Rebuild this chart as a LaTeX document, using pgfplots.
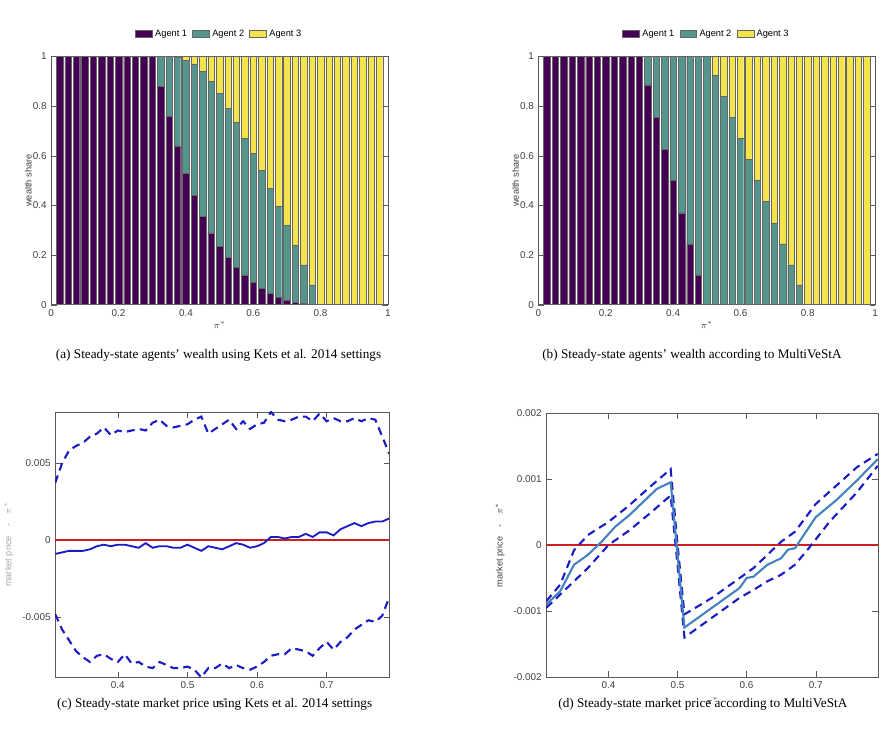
\documentclass[border=0pt]{standalone}
\usepackage{pgfplots}
\pgfplotsset{compat=1.18}
\usepackage{pgfplotstable}
\usepackage{fontspec}
\setmainfont{Liberation Serif}
\setsansfont{Liberation Sans}
\definecolor{ag1}{HTML}{440154}
\definecolor{ag2}{HTML}{55968C}
\definecolor{ag3}{HTML}{F3E34C}
\definecolor{mblue}{HTML}{1C1CC4}
\definecolor{sblue}{HTML}{4682BE}
\definecolor{mred}{HTML}{CC2020}
\pgfplotstableread{
x a1 a2 a3
0.025 1 0 0
0.05 1 0 0
0.075 1 0 0
0.1 1 0 0
0.125 1 0 0
0.15 1 0 0
0.175 1 0 0
0.2 1 0 0
0.225 1 0 0
0.25 1 0 0
0.275 1 0 0
0.3 1 0 0
0.325 .88 .12 0
0.35 .76 .24 0
0.375 .64 .355 .005
0.4 .53 .455 .015
0.425 .44 .53 .03
0.45 .355 .585 .06
0.475 .29 .61 .10
0.5 .235 .615 .15
0.525 .19 .60 .21
0.55 .15 .585 .265
0.575 .12 .55 .33
0.6 .09 .52 .39
0.625 .065 .475 .46
0.65 .045 .425 .53
0.675 .03 .365 .605
0.7 .02 .30 .68
0.725 .01 .23 .76
0.75 .005 .155 .84
0.775 0 .08 .92
0.8 0 0 1
0.825 0 0 1
0.85 0 0 1
0.875 0 0 1
0.9 0 0 1
0.925 0 0 1
0.95 0 0 1
0.975 0 0 1
}\tabA
\pgfplotstableread{
x a1 a2 a3
0.025 1 0 0
0.05 1 0 0
0.075 1 0 0
0.1 1 0 0
0.125 1 0 0
0.15 1 0 0
0.175 1 0 0
0.2 1 0 0
0.225 1 0 0
0.25 1 0 0
0.275 1 0 0
0.3 1 0 0
0.325 .885 .115 0
0.35 .755 .245 0
0.375 .625 .375 0
0.4 .5 .5 0
0.425 .37 .63 0
0.45 .245 .755 0
0.475 .12 .88 0
0.5 0 1 0
0.525 0 .925 .075
0.55 0 .84 .16
0.575 0 .755 .245
0.6 0 .67 .33
0.625 0 .585 .415
0.65 0 .5 .5
0.675 0 .415 .585
0.7 0 .33 .67
0.725 0 .245 .755
0.75 0 .16 .84
0.775 0 .08 .92
0.8 0 0 1
0.825 0 0 1
0.85 0 0 1
0.875 0 0 1
0.9 0 0 1
0.925 0 0 1
0.95 0 0 1
0.975 0 0 1
}\tabB
\pgfplotsset{
  base/.style={scale only axis, axis line style={gray!70!black}, tick style={gray!70!black},
    tick align=inside, ticklabel style={font=\sffamily\fontsize{7.5}{9}\selectfont, text=black!75},
    /pgf/number format/assume math mode=true,
    label style={font=\sffamily\fontsize{7}{8}\selectfont, text=black!75},
    x tick label style={/pgf/number format/fixed}, y tick label style={/pgf/number format/fixed}},
  barax/.style={base, ybar stacked, bar width=4.9pt, xmin=0, xmax=1, ymin=0, ymax=1,
    xtick={0,0.2,...,1}, ytick={0,0.2,...,1}, ylabel={wealth share}, xlabel={$\pi^*$},
    xlabel style={yshift=3pt}, ylabel style={yshift=-6pt},
    legend style={at={(0.5,1.05)}, anchor=south, draw=none, legend columns=3,
      font=\sffamily\fontsize{7}{8}\selectfont, /tikz/every even column/.append style={column sep=2pt}},
    legend image code/.code={\draw[#1, draw=black!60] (0cm,-0.09cm) rectangle (0.45cm,0.11cm);},
    every axis plot/.append style={draw=gray!80!black, line width=0.3pt}},
}
\begin{document}
\begin{tikzpicture}
\path (0pt,0pt) rectangle (667.5pt,-568.5pt);
% (a)
\begin{axis}[barax, at={(32.25pt,-42.75pt)}, anchor=north west, width=255pt, height=188pt]
\addplot[fill=ag1] table[x=x,y=a1]{\tabA}; \addlegendentry{Agent 1}
\addplot[fill=ag2] table[x=x,y=a2]{\tabA}; \addlegendentry{Agent 2}
\addplot[fill=ag3] table[x=x,y=a3]{\tabA}; \addlegendentry{Agent 3}
\end{axis}
% (b)
\begin{axis}[barax, at={(401.25pt,-42.75pt)}, anchor=north west, width=255pt, height=188pt]
\addplot[fill=ag1] table[x=x,y=a1]{\tabB}; \addlegendentry{Agent 1}
\addplot[fill=ag2] table[x=x,y=a2]{\tabB}; \addlegendentry{Agent 2}
\addplot[fill=ag3] table[x=x,y=a3]{\tabB}; \addlegendentry{Agent 3}
\end{axis}
% (c)
\begin{axis}[base, at={(35.25pt,-312pt)}, anchor=north west, width=253pt, height=201pt,
  xmin=0.31, xmax=0.79, ymin=-0.0089, ymax=0.0083, xtick={0.4,0.5,0.6,0.7},
  ytick={-0.005,0,0.005}, scaled y ticks=false,
  yticklabel style={/pgf/number format/precision=3},
  xlabel={$\pi^*$}, ylabel={market price\quad -\quad $\pi^*$}, ylabel style={text=black!35}]
\addplot[mred, line width=1.4pt] coordinates {(0.31,0) (0.79,0)};
\addplot[mblue, line width=1.4pt] coordinates {
(0.31,-0.0009)(0.32,-0.0008)(0.33,-0.0007)(0.34,-0.0007)(0.35,-0.0007)(0.36,-0.0006)(0.37,-0.0004)(0.38,-0.0003)(0.39,-0.0004)(0.40,-0.0003)(0.41,-0.0003)(0.42,-0.0004)(0.43,-0.0005)(0.44,-0.0002)(0.45,-0.0005)(0.46,-0.0004)(0.47,-0.0004)(0.48,-0.0005)(0.49,-0.0005)(0.50,-0.0003)(0.51,-0.0005)(0.52,-0.0007)(0.53,-0.0004)(0.54,-0.0005)(0.55,-0.0006)(0.56,-0.0004)(0.57,-0.0002)(0.58,-0.0003)(0.59,-0.0005)(0.60,-0.0004)(0.61,-0.0002)(0.62,0.0002)(0.63,0.0002)(0.64,0.0001)(0.65,0.0002)(0.66,0.0002)(0.67,0.0004)(0.68,0.0002)(0.69,0.0005)(0.70,0.0005)(0.71,0.0003)(0.72,0.0007)(0.73,0.0009)(0.74,0.0011)(0.75,0.0009)(0.76,0.0011)(0.77,0.0012)(0.78,0.0012)(0.79,0.0014)};
\addplot[mblue, line width=1.6pt, dash pattern=on 6pt off 4pt] coordinates {
(0.31,0.0037)(0.32,0.0050)(0.33,0.0058)(0.34,0.0061)(0.35,0.0063)(0.36,0.0067)(0.37,0.0069)(0.38,0.0073)(0.39,0.0068)(0.40,0.0071)(0.41,0.0070)(0.42,0.0071)(0.43,0.0072)(0.44,0.0071)(0.45,0.0076)(0.46,0.0078)(0.47,0.0074)(0.48,0.0073)(0.49,0.0074)(0.50,0.0075)(0.51,0.0078)(0.52,0.0080)(0.53,0.0069)(0.54,0.0072)(0.55,0.0075)(0.56,0.0078)(0.57,0.0072)(0.58,0.0077)(0.59,0.0072)(0.60,0.0075)(0.61,0.0076)(0.62,0.0083)(0.63,0.0078)(0.64,0.0077)(0.65,0.0078)(0.66,0.0080)(0.67,0.0080)(0.68,0.0077)(0.69,0.0082)(0.70,0.0077)(0.71,0.0079)(0.72,0.0077)(0.73,0.0077)(0.74,0.0079)(0.75,0.0077)(0.76,0.0079)(0.77,0.0078)(0.78,0.0067)(0.79,0.0056)};
\addplot[mblue, line width=1.6pt, dash pattern=on 6pt off 4pt] coordinates {
(0.31,-0.0048)(0.32,-0.0058)(0.33,-0.0065)(0.34,-0.0072)(0.35,-0.0076)(0.36,-0.0079)(0.37,-0.0075)(0.38,-0.0074)(0.39,-0.0077)(0.40,-0.0079)(0.41,-0.0074)(0.42,-0.0080)(0.43,-0.0079)(0.44,-0.0082)(0.45,-0.0083)(0.46,-0.0079)(0.47,-0.0081)(0.48,-0.0083)(0.49,-0.0083)(0.50,-0.0082)(0.51,-0.0084)(0.52,-0.0089)(0.53,-0.0083)(0.54,-0.0083)(0.55,-0.0080)(0.56,-0.0083)(0.57,-0.0081)(0.58,-0.0083)(0.59,-0.0084)(0.60,-0.0082)(0.61,-0.0079)(0.62,-0.0075)(0.63,-0.0074)(0.64,-0.0074)(0.65,-0.0070)(0.66,-0.0071)(0.67,-0.0072)(0.68,-0.0075)(0.69,-0.0070)(0.70,-0.0066)(0.71,-0.0071)(0.72,-0.0066)(0.73,-0.0063)(0.74,-0.0058)(0.75,-0.0055)(0.76,-0.0052)(0.77,-0.0053)(0.78,-0.0049)(0.79,-0.0037)};
\end{axis}
% (d)
\begin{axis}[base, at={(407.25pt,-312.75pt)}, anchor=north west, width=251pt, height=200pt,
  xmin=0.31, xmax=0.79, ymin=-0.002, ymax=0.002, xtick={0.4,0.5,0.6,0.7},
  ytick={-0.002,-0.001,0,0.001,0.002}, scaled y ticks=false,
  yticklabel style={/pgf/number format/precision=3},
  xlabel={$\pi^*$}, ylabel={market price\quad -\quad $\pi^*$}]
\addplot[mred, line width=1.4pt] coordinates {(0.31,0) (0.79,0)};
\addplot[mblue, line width=1.6pt, dash pattern=on 6pt off 4pt] coordinates {
(0.31,-0.00085)(0.33,-0.0006)(0.35,-0.00008)(0.37,0.00015)(0.40,0.00035)(0.43,0.0006)(0.46,0.00088)(0.49,0.00115)(0.50,0.0)(0.51,-0.00105)(0.55,-0.0008)(0.59,-0.0005)(0.61,-0.00035)(0.63,-0.00015)(0.65,0.00005)(0.67,0.0002)(0.70,0.00062)(0.73,0.0009)(0.76,0.00118)(0.79,0.00138)};
\addplot[mblue, line width=1.6pt, dash pattern=on 6pt off 4pt] coordinates {
(0.31,-0.00095)(0.34,-0.00065)(0.37,-0.00035)(0.40,0.0)(0.43,0.00022)(0.46,0.00048)(0.49,0.00075)(0.50,-0.0003)(0.51,-0.0014)(0.55,-0.0011)(0.59,-0.0008)(0.61,-0.00068)(0.63,-0.00055)(0.65,-0.00045)(0.67,-0.0003)(0.69,-0.00005)(0.72,0.00035)(0.76,0.0008)(0.79,0.0012)};
\addplot[sblue, line width=1.6pt] coordinates {
(0.31,-0.0009)(0.33,-0.0007)(0.34,-0.0005)(0.35,-0.0003)(0.37,-0.00015)(0.39,0.00005)(0.41,0.00028)(0.43,0.00045)(0.45,0.00065)(0.47,0.00085)(0.49,0.00095)(0.51,-0.00125)(0.55,-0.00095)(0.59,-0.00065)(0.60,-0.0005)(0.61,-0.00048)(0.63,-0.0003)(0.65,-0.0002)(0.66,-0.00007)(0.67,-0.00005)(0.70,0.00042)(0.73,0.00068)(0.76,0.00098)(0.79,0.0013)};
\end{axis}
\node[font=\fontsize{10}{12}\selectfont] at (159pt,-269.25pt) {(a) Steady-state agents' wealth using Kets et al. 2014 settings};
\node[font=\fontsize{10}{12}\selectfont] at (517.5pt,-269.25pt) {(b) Steady-state agents' wealth according to MultiVeStA};
\node[font=\fontsize{10}{12}\selectfont] at (156pt,-533.25pt) {(c) Steady-state market price using Kets et al. 2014 settings};
\node[font=\fontsize{10}{12}\selectfont] at (525.75pt,-533.25pt) {(d) Steady-state market price according to MultiVeStA};
\end{tikzpicture}
\end{document}
